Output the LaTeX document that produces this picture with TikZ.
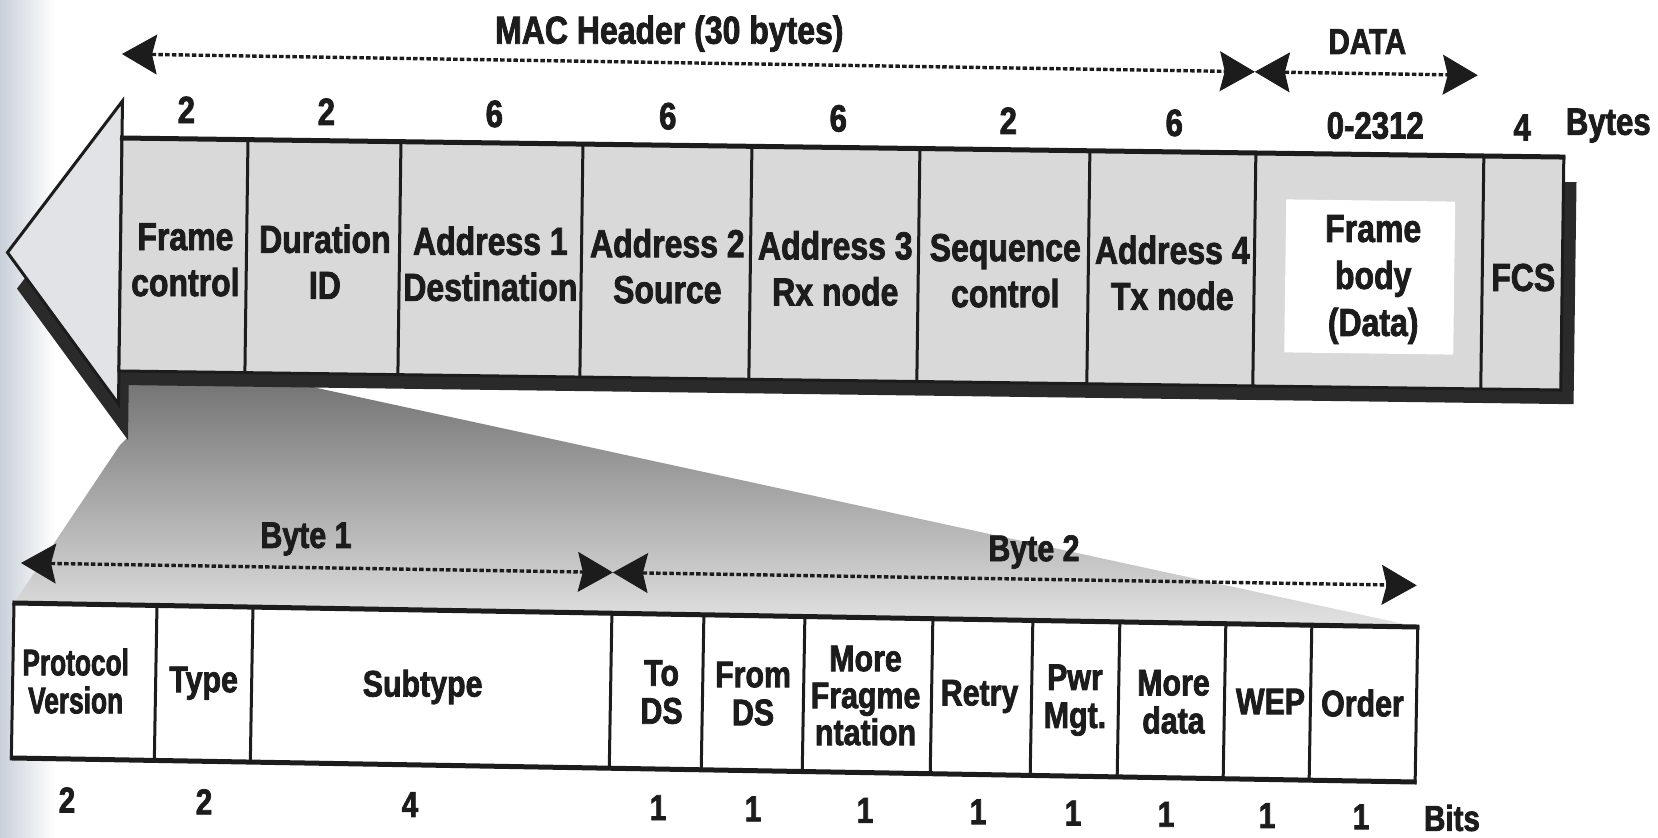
\documentclass[tikz,border=0pt]{standalone}
\usepackage{fontspec}
\newfontfamily\lf[FakeStretch=0.82,FakeBold=2]{Liberation Sans}
\newfontfamily\lfn[FakeStretch=0.71,FakeBold=2]{Liberation Sans}
\usetikzlibrary{arrows.meta}
\definecolor{ink}{HTML}{1C1C1C}
\definecolor{cellgray}{HTML}{D9D9D9}
\definecolor{headfill}{HTML}{E1E3E6}
\definecolor{shadowc}{HTML}{2A2A2A}
\definecolor{scanedge}{HTML}{C9D0DA}
\tikzset{
  dimline/.style={draw=ink, line width=3.4pt, dash pattern=on 4.5pt off 2.2pt,
    >={Stealth[length=35pt,width=40pt,inset=5pt,line width=1pt]}, <->},
  cellline/.style={draw=ink, line width=3pt},
  biglbl/.style={font=\lf\bfseries\fontsize{39}{46}\selectfont, text=ink, align=center, inner sep=0pt},
  smalllbl/.style={font=\lf\bfseries\fontsize{37}{38}\selectfont, text=ink, align=center, inner sep=0pt},
  narrowlbl/.style={font=\lfn\bfseries\fontsize{37}{38}\selectfont, text=ink, align=center, inner sep=0pt},
  topnum/.style={font=\lf\bfseries\fontsize{38}{40}\selectfont, text=ink, inner sep=0pt},
  lownum/.style={font=\lf\bfseries\fontsize{36}{38}\selectfont, text=ink, inner sep=0pt},
  span/.style={font=\lf\bfseries\fontsize{37}{40}\selectfont, text=ink, inner sep=0pt},
}
\begin{document}
\begin{tikzpicture}[x=1pt,y=-1pt,line join=miter]
\useasboundingbox (0,0) rectangle (1658,838);
\fill[white] (0,0) rectangle (1658,838);
\shade[left color=scanedge, right color=white] (0,0) rectangle (55,838);

% projection of the Frame control field
\shade[top color=black!56, bottom color=black!11]
  (14,603) -- (120,445) -- (128,437) -- (128,378) -- (248,373) -- (1418,627) -- cycle;

% ---------- MAC frame bar ----------
\begin{scope}[rotate around={-0.757:(122,138)}]
  \fill[shadowc] (132,137) -- (19,290) -- (132,440) -- cycle;
  \fill[shadowc] (122,163) rectangle (1577,385);
  \filldraw[fill=headfill, draw=ink, line width=3pt] (122,101) -- (9,254) -- (122,404) -- cycle;
  \fill[cellgray] (122,138) rectangle (1564,371);
  \fill[white] (1287,184) rectangle (1456,337);
  \draw[cellline] (122,138) rectangle (1564,371);
  \draw[ink, line width=5pt] (120,138) -- (1565.5,138);
  \foreach \x in {248,401,583,752,920,1090,1256,1484}
    \draw[cellline] (\x,138) -- (\x,371);
  \node[biglbl] (fc)   at (187,259)    {Frame\\control};
  \node[biglbl] (dur)  at (326.5,259)  {Duration\\ID};
  \node[biglbl] (a1)   at (492,259)    {Address 1\\Destination};
  \node[biglbl] (a2)   at (669,259)    {Address 2\\Source};
  \node[biglbl] (a3)   at (837,259)    {Address 3\\Rx node};
  \node[biglbl] (seq)  at (1007,259)   {Sequence\\control};
  \node[biglbl] (a4)   at (1174,259)   {Address 4\\Tx node};
  \node[biglbl, font=\lf\bfseries\fontsize{39}{47}\selectfont] (body) at (1375,263) {Frame\\body\\(Data)};
  \node[biglbl] (fcs)  at (1525,259)   {FCS};
  \node[topnum] (n1) at (186,109) {2};
  \node[topnum] (n2) at (326,109) {2};
  \node[topnum] (n3) at (494,109) {6};
  \node[topnum] (n4) at (667.5,109) {6};
  \node[topnum] (n5) at (838,109) {6};
  \node[topnum] (n6) at (1008,109) {2};
  \node[topnum] (n7) at (1174,109) {6};
  \node[topnum] (n8) at (1375,109) {0-2312};
  \node[topnum] (n9) at (1522,109) {4};
  \node[topnum] (bytes) at (1608,106) {Bytes};
\end{scope}

% ---------- MAC header / DATA span ----------
\begin{scope}[rotate around={-0.9:(122,54)}]
  \coordinate (hl) at (122,54);
  \coordinate (hm) at (1255,54);
  \coordinate (hr) at (1478,54);
  \draw[dimline] (hl) -- (hm);
  \draw[dimline] (hm) -- (hr);
  \node[span, font=\lf\bfseries\fontsize{39}{40}\selectfont] (mac) at (669,25) {MAC Header (30 bytes)};
  \node[span, font=\lf\bfseries\fontsize{36}{40}\selectfont] (data) at (1367,22) {DATA};
\end{scope}

% ---------- Frame control bits ----------
\begin{scope}[rotate around={-0.98:(14,603)}]
  \fill[white] (14,603) rectangle (1418,758);
  \draw[cellline] (14,603) rectangle (1418,758);
  \draw[ink, line width=5pt] (12.5,603) -- (1419.5,603) (12.5,758) -- (1419.5,758);
  \foreach \x in {157,253,612,704,805,933,1033,1120,1226,1312}
    \draw[cellline] (\x,603) -- (\x,758);
  \node[narrowlbl] (pv)  at (77,680)    {Protocol\\Version};
  \node[smalllbl] (ty)   at (205,680)   {Type};
  \node[smalllbl] (st)   at (424,680)   {Subtype};
  \node[smalllbl] (tds)  at (663,681)   {To\\DS};
  \node[smalllbl] (fds)  at (754.5,681) {From\\DS};
  \node[smalllbl, font=\lf\bfseries\fontsize{37}{37}\selectfont] (mf) at (867,681) {More\\Fragme\\ntation};
  \node[smalllbl] (rt)   at (981,680)   {Retry};
  \node[smalllbl] (pw)   at (1076.5,682){Pwr\\Mgt.};
  \node[smalllbl] (md)   at (1175,682)  {More\\data};
  \node[smalllbl] (wep)  at (1272,680)  {WEP};
  \node[smalllbl] (ord)  at (1364,680)  {Order};
\end{scope}

\begin{scope}[rotate around={-0.92:(21,563)}]
  \coordinate (bl) at (21,563);
  \coordinate (bm) at (613,563);
  \coordinate (br) at (1417,563);
  \draw[dimline] (bl) -- (bm);
  \draw[dimline] (bm) -- (br);
\end{scope}
\node[span] (b1) at (306,539) {Byte 1};
\node[span] (b2) at (1034,552) {Byte 2};

% bit counts
\node[lownum] (c1)  at (67,800)     {2};
\node[lownum] (c2)  at (204,801.8)  {2};
\node[lownum] (c3)  at (410,804.5)  {4};
\node[lownum] (c4)  at (658,807.7)  {1};
\node[lownum] (c5)  at (753,808.9)  {1};
\node[lownum] (c6)  at (865,810.4)  {1};
\node[lownum] (c7)  at (978,811.8)  {1};
\node[lownum] (c8)  at (1073,813.1) {1};
\node[lownum] (c9)  at (1166,814.3) {1};
\node[lownum] (c10) at (1267,815.6) {1};
\node[lownum] (c11) at (1361,816.8) {1};
\node[lownum] (bits) at (1452,818)  {Bits};
\end{tikzpicture}
\end{document}
